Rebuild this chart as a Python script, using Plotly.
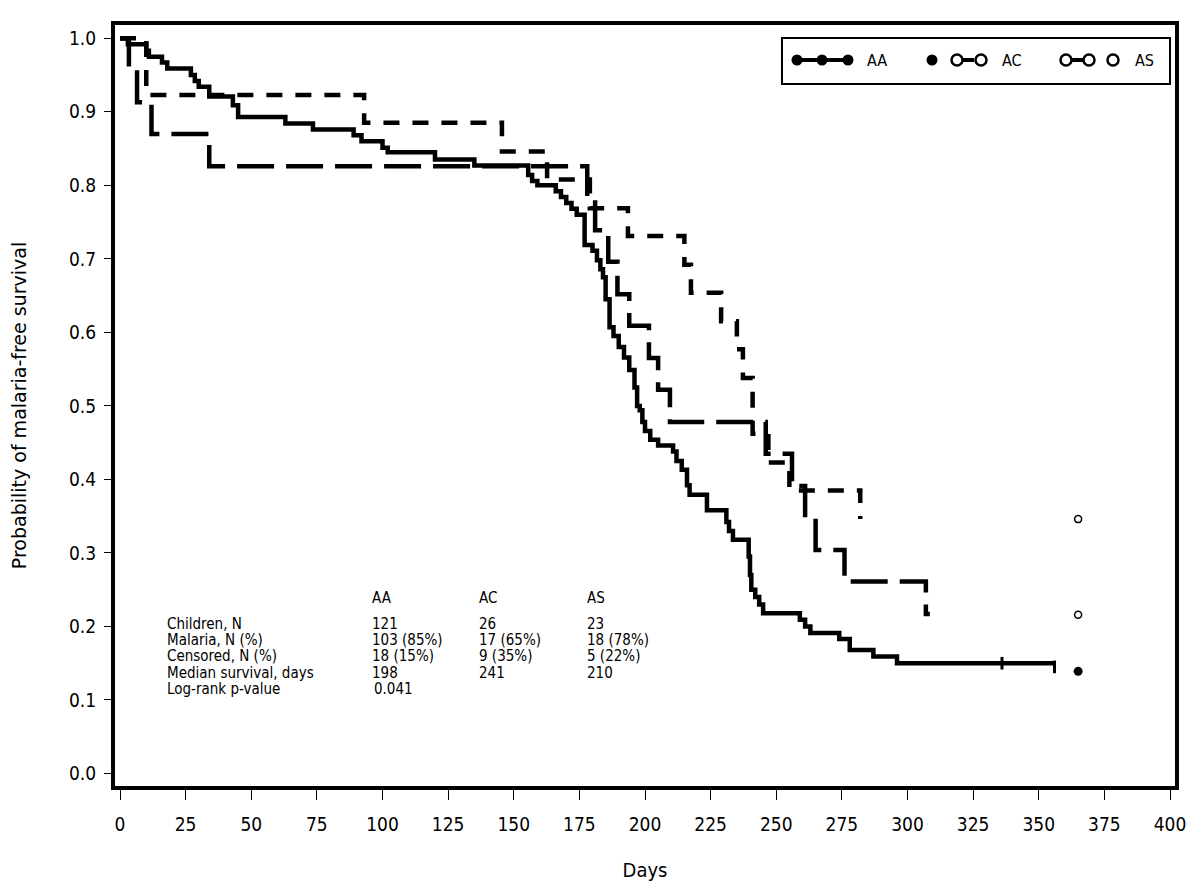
import plotly.graph_objects as go

# ---------------- data ----------------
aa_days = [0, 3, 10, 11, 16, 18, 27, 28.5, 30, 34, 43, 45, 63, 73.5, 89, 92, 100, 102, 120, 135,
           155.5, 157, 159, 166, 168, 170, 172, 174, 177, 180, 181.7, 183, 184, 185, 186.5, 188, 190,
           192, 194, 196, 197, 198, 199, 200, 202, 205, 210.7, 212, 214, 216, 217, 223.6, 231, 232,
           233.5, 239.5, 240, 240.5, 242, 243.5, 245, 259, 261, 263, 274, 278, 287, 296, 356]
aa_surv = [1.0, 0.992, 0.983, 0.975, 0.967, 0.959, 0.950, 0.942, 0.934, 0.921, 0.909, 0.893, 0.884,
           0.876, 0.868, 0.860, 0.851, 0.845, 0.835, 0.827, 0.814, 0.806, 0.800, 0.792, 0.784, 0.776,
           0.768, 0.760, 0.719, 0.711, 0.698, 0.686, 0.675, 0.645, 0.607, 0.595, 0.580, 0.566, 0.549,
           0.525, 0.500, 0.494, 0.478, 0.466, 0.454, 0.446, 0.438, 0.425, 0.413, 0.392, 0.379, 0.358,
           0.342, 0.330, 0.318, 0.295, 0.270, 0.250, 0.240, 0.230, 0.218, 0.209, 0.200, 0.191, 0.183,
           0.168, 0.159, 0.150, 0.150]

ac_days = [0, 10, 93, 145.5, 162.7, 179, 193.5, 215, 217.5, 229, 235, 237.3, 241, 247, 255, 282]
ac_surv = [1.0, 0.923, 0.885, 0.846, 0.808, 0.769, 0.731, 0.692, 0.654, 0.615, 0.577, 0.538,
           0.462, 0.423, 0.385, 0.346]

as_days = [0, 3.4, 6.5, 12, 34, 178, 181, 186, 189.5, 194, 201.5, 205, 209.5, 246, 256, 261, 265,
           276, 307, 308.5]
as_surv = [1.0, 0.957, 0.913, 0.870, 0.826, 0.783, 0.739, 0.696, 0.652, 0.609, 0.565, 0.522, 0.478,
           0.435, 0.391, 0.348, 0.304, 0.261, 0.217, 0.217]

aa_censor_days = [336, 356]
aa_censor_surv = [0.150, 0.145]

end_days = [365]
end_aa = [0.139]
end_ac = [0.346]
end_as = [0.216]

x_ticks = [0, 25, 50, 75, 100, 125, 150, 175, 200, 225, 250, 275, 300, 325, 350, 375, 400]
y_ticks = [0.0, 0.1, 0.2, 0.3, 0.4, 0.5, 0.6, 0.7, 0.8, 0.9, 1.0]

groups = ["AA", "AC", "AS"]
row_labels = ["Children, N", "Malaria, N (%)", "Censored, N (%)", "Median survival, days",
              "Log-rank p-value"]
col_aa = ["121", "103 (85%)", "18 (15%)", "198", "0.041"]
col_ac = ["26", "17 (65%)", "9 (35%)", "241", ""]
col_as = ["23", "18 (78%)", "5 (22%)", "210", ""]

# ---------------- layout constants (pixels) ----------------
# The page body has an 8px default margin, so the figure is 8px smaller and
# screen positions are figure positions + 8.
OFF = 8
W, H = 1200 - OFF, 894 - OFF
SX0, SX1, SY0, SY1 = 115, 1175, 25, 786       # plot area on screen (px)
L, R, T, B = SX0 - OFF, W - (SX1 - OFF), SY0 - OFF, H - (SY1 - OFF)
NARROW = "DejaVu Sans Condensed, Liberation Sans Narrow, sans-serif"
BLACK = "black"

fig = go.Figure()

# survival curves
fig.add_trace(go.Scatter(x=aa_days, y=aa_surv, mode="lines", name="AA",
                         line=dict(shape="hv", color=BLACK, width=4.5), showlegend=False))
fig.add_trace(go.Scatter(x=ac_days, y=ac_surv, mode="lines", name="AC",
                         line=dict(shape="hv", color=BLACK, width=4.5, dash="16px,13px"),
                         showlegend=False))
fig.add_trace(go.Scatter(x=as_days, y=as_surv, mode="lines", name="AS",
                         line=dict(shape="hv", color=BLACK, width=4.5, dash="37px,12px"),
                         showlegend=False))
fig.add_trace(go.Scatter(x=aa_censor_days, y=aa_censor_surv, mode="markers", showlegend=False,
                         marker=dict(symbol="line-ns", size=9, color=BLACK,
                                     line=dict(color=BLACK, width=3))))
# end-of-follow-up symbols
fig.add_trace(go.Scatter(x=end_days, y=end_aa, mode="markers", showlegend=False,
                         marker=dict(symbol="circle", size=9, color=BLACK)))
fig.add_trace(go.Scatter(x=end_days + end_days, y=end_ac + end_as, mode="markers",
                         showlegend=False,
                         marker=dict(symbol="circle", size=7, color="white",
                                     line=dict(color=BLACK, width=1.5))))

# ---------------- legend (drawn on a screen-pixel overlay axis) ----------------
LEG_Y = 60
leg_items = [
    dict(line=[793, 852], filled=[797, 822, 848], open=[], text_x=865),
    dict(line=[955, 974], filled=[932], open=[957, 981], text_x=1000),
    dict(line=[1060, 1095], filled=[], open=[1066, 1089, 1113], text_x=1133),
]
for it in leg_items:
    fig.add_trace(go.Scatter(x=it["line"], y=[LEG_Y, LEG_Y], mode="lines", xaxis="x2",
                             yaxis="y2", showlegend=False, hoverinfo="skip",
                             line=dict(color=BLACK, width=4)))
    if it["filled"]:
        fig.add_trace(go.Scatter(x=it["filled"], y=[LEG_Y] * len(it["filled"]), mode="markers",
                                 xaxis="x2", yaxis="y2", showlegend=False, hoverinfo="skip",
                                 marker=dict(symbol="circle", size=11, color=BLACK)))
    if it["open"]:
        fig.add_trace(go.Scatter(x=it["open"], y=[LEG_Y] * len(it["open"]), mode="markers",
                                 xaxis="x2", yaxis="y2", showlegend=False, hoverinfo="skip",
                                 marker=dict(symbol="circle", size=11, color="white",
                                             line=dict(color=BLACK, width=2.5))))
for g, it in zip(groups, leg_items):
    fig.add_annotation(x=it["text_x"], y=LEG_Y, xref="x2", yref="y2", text=g, showarrow=False,
                       xanchor="left", yanchor="middle", font=dict(family=NARROW, size=16,
                                                                   color=BLACK))
fig.add_shape(type="rect", xref="x2", yref="y2", x0=782, x1=1170, y0=38, y1=84,
              line=dict(color=BLACK, width=2), fillcolor="rgba(0,0,0,0)")

# ---------------- summary table ----------------
TFONT = dict(family=NARROW, size=15, color=BLACK)
col_x = [370, 477, 585]
HEAD_Y = 598
ROW_Y0, ROW_DY = 624, 16.2
for g, cx in zip(groups, col_x):
    fig.add_annotation(x=cx, y=HEAD_Y, xref="x2", yref="y2", text=g, showarrow=False,
                       xanchor="left", yanchor="middle", font=TFONT)
for i, lab in enumerate(row_labels):
    yy = ROW_Y0 + ROW_DY * i
    fig.add_annotation(x=165, y=yy, xref="x2", yref="y2", text=lab, showarrow=False,
                       xanchor="left", yanchor="middle", font=TFONT)
    for col, cx in zip([col_aa, col_ac, col_as], col_x):
        if col[i]:
            fig.add_annotation(x=cx + (2 if i == 4 else 0), y=yy, xref="x2", yref="y2",
                               text=col[i], showarrow=False, xanchor="left",
                               yanchor="middle", font=TFONT)

# ---------------- axes ----------------
# calibration (screen px): day 0 -> 120, day 400 -> 1170; p 1.0 -> 38.3, p 0.0 -> 773.5
xppd = (1170 - 120) / 400.0
yppu = (773.5 - 38.3)
x_range = [(SX0 - 120) / xppd, (SX1 - 120) / xppd]
y_range = [-(SY1 - 773.5) / yppu, 1 + (38.3 - SY0) / yppu]

fig.update_layout(
    width=W, height=H,
    margin=dict(l=L, r=R, t=T, b=B, autoexpand=False),
    paper_bgcolor="white", plot_bgcolor="white",
    showlegend=False,
    font=dict(family=NARROW, color=BLACK),
    xaxis=dict(range=x_range, tickvals=x_ticks, ticks="outside", ticklen=10, tickwidth=1,
               tickcolor=BLACK, showline=True, linewidth=4, linecolor=BLACK, mirror=True,
               showgrid=False, zeroline=False, tickfont=dict(family=NARROW, size=19),
               ticklabelstandoff=8, automargin=False,
               title=dict(text="Days", font=dict(family=NARROW, size=20), standoff=30)),
    yaxis=dict(range=y_range, tickvals=y_ticks, tickformat=".1f", ticks="outside", ticklen=7,
               tickwidth=1, tickcolor=BLACK, showline=True, linewidth=4, linecolor=BLACK,
               mirror=True, showgrid=False, zeroline=False, automargin=False,
               tickfont=dict(family=NARROW, size=19), ticklabelstandoff=4,
               title=dict(text="Probability of malaria-free survival",
                          font=dict(family="DejaVu Sans", size=19), standoff=40)),
    xaxis2=dict(overlaying="x", anchor="y2", range=[SX0, SX1], visible=False, fixedrange=True,
                automargin=False),
    yaxis2=dict(overlaying="y", anchor="x2", range=[SY1, SY0], visible=False, fixedrange=True,
                automargin=False),
)

fig.write_html("out.html")
